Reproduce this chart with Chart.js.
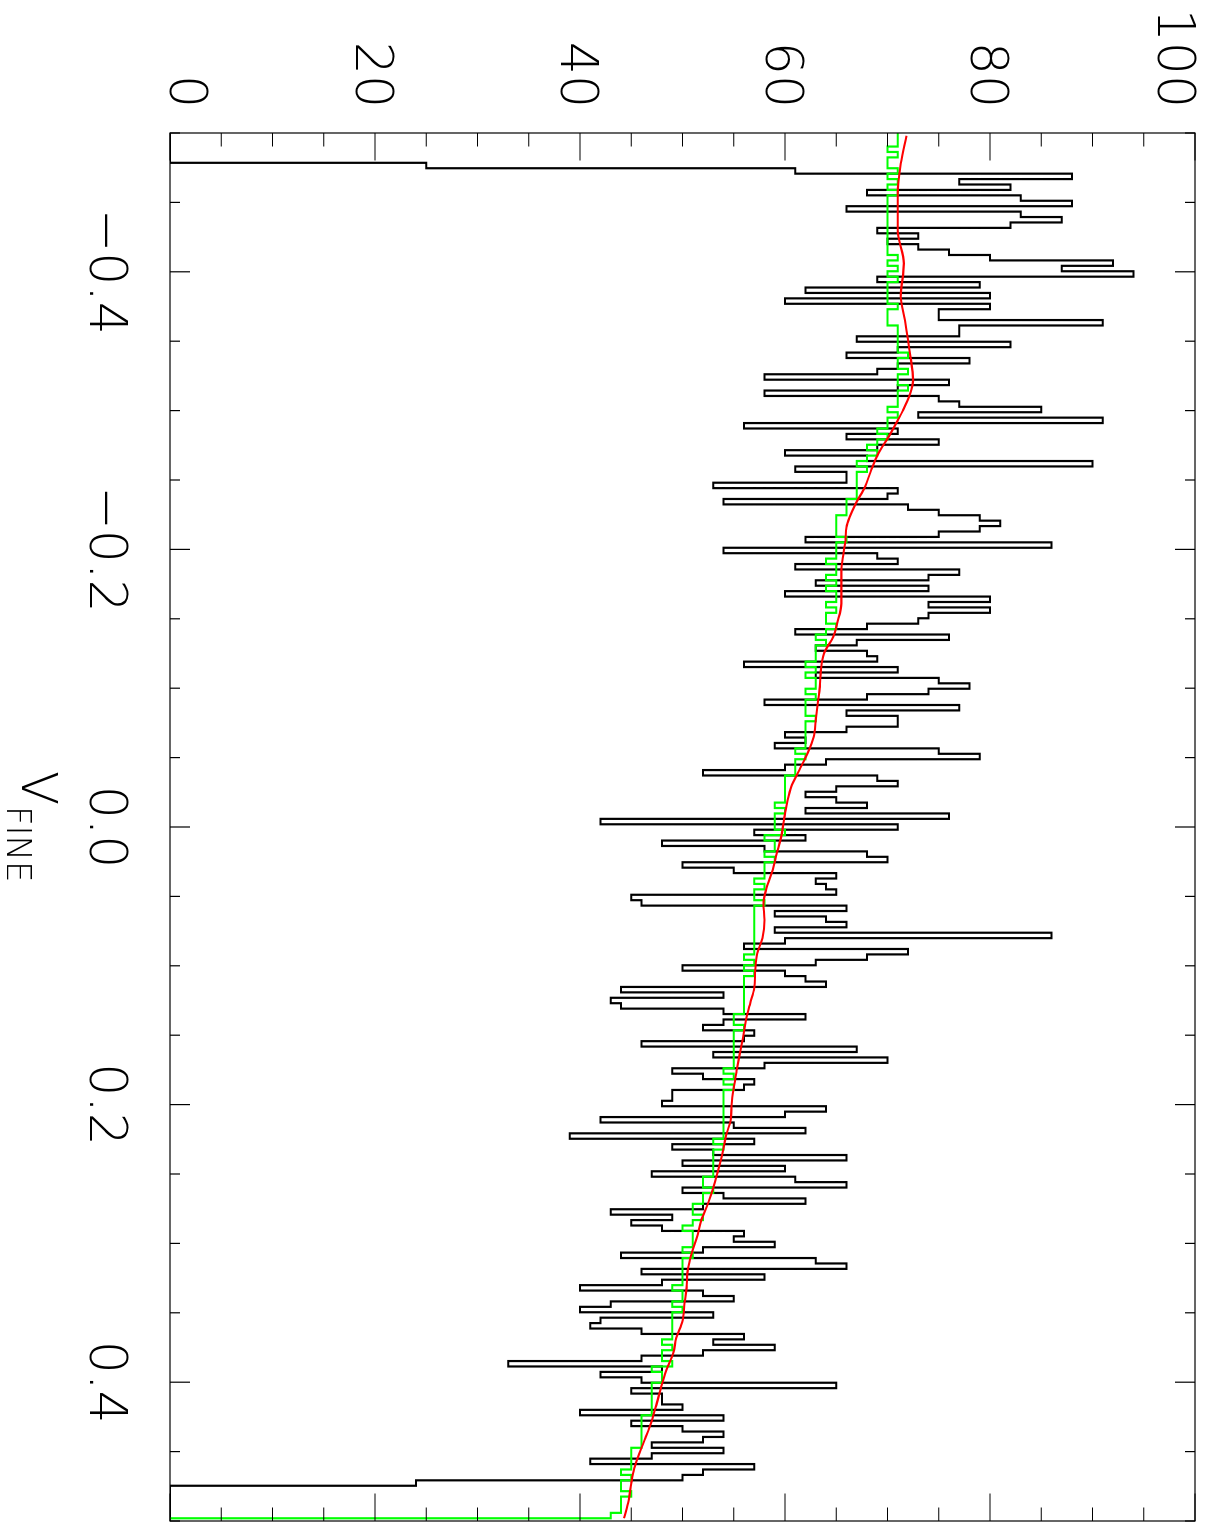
<!DOCTYPE html>
<html>
<head>
<meta charset="utf-8">
<title>V_FINE</title>
<script src="https://cdn.jsdelivr.net/npm/chart.js@4.4.1/dist/chart.umd.min.js"></script>
<style>
  html, body { margin: 0; padding: 0; background: #fff; overflow: hidden; }
  /* o gráfico é desenhado "deitado" e girado 90° como no original */
  #wrap {
    position: absolute; left: 0; top: 0;
    width: 1522px; height: 1209px;
    transform-origin: 0 0;
    transform: translate(1209px, 0) rotate(90deg);
  }
</style>
</head>
<body>
<div id="wrap"><canvas id="grafico" width="1522" height="1209"></canvas></div>
<script>
// Bins: 257 pontos de -0.5 a 0.5 (passo 1/256)
const binInicio = -0.5;
const binPasso = 1 / 256;

// Histograma preto (contagens por bin)
const contagens = [
  0, 0, 0, 0, 0, 0, 25, 61, 88, 77,
  82, 68, 83, 88, 66, 83, 87, 82, 69, 73,
  70, 73, 76, 80, 92, 87, 94, 69, 79, 62,
  80, 60, 80, 75, 75, 91, 77, 77, 67, 82,
  71, 66, 78, 71, 69, 58, 76, 71, 58, 75,
  77, 85, 73, 91, 56, 71, 66, 75, 69, 60,
  68, 90, 61, 66, 66, 53, 71, 70, 54, 72,
  75, 79, 81, 79, 75, 62, 86, 54, 69, 71,
  61, 77, 74, 63, 74, 60, 80, 74, 80, 74,
  73, 68, 61, 76, 67, 63, 68, 69, 56, 71,
  63, 75, 78, 74, 68, 58, 77, 66, 71, 71,
  66, 60, 62, 59, 75, 79, 64, 60, 52, 69,
  71, 65, 62, 65, 68, 62, 76, 42, 71, 57,
  62, 48, 58, 68, 70, 50, 55, 65, 63, 64,
  65, 45, 46, 66, 59, 64, 66, 59, 86, 60,
  56, 72, 68, 63, 50, 60, 62, 64, 44, 54,
  43, 44, 54, 62, 54, 52, 57, 56, 46, 67,
  53, 70, 58, 49, 52, 57, 56, 49, 49, 48,
  64, 60, 42, 55, 62, 39, 57, 49, 53, 66,
  50, 60, 47, 61, 66, 50, 54, 62, 52, 43,
  49, 45, 48, 56, 55, 59, 52, 44, 63, 66,
  46, 58, 48, 40, 52, 55, 43, 40, 53, 42,
  41, 46, 56, 53, 59, 52, 46, 33, 48, 42,
  46, 65, 45, 48, 48, 50, 40, 54, 45, 50,
  54, 52, 47, 54, 47, 41, 57, 52, 50, 24,
  0, 0, 0, 0, 0, 0, 0
];

// Modelo verde (em degraus)
const modeloVerde = [
  71, 71, 71, 70, 71, 70, 70, 71, 70, 71,
  70, 71, 70, 70, 70, 70, 70, 70, 70, 70,
  70, 70, 70, 71, 70, 71, 70, 71, 70, 70,
  70, 70, 71, 70, 70, 70, 71, 71, 71, 71,
  71, 72, 71, 71, 72, 71, 71, 72, 71, 71,
  71, 70, 71, 70, 70, 69, 70, 69, 68, 69,
  68, 67, 68, 67, 67, 67, 67, 67, 66, 66,
  66, 65, 65, 65, 65, 66, 65, 65, 65, 64,
  65, 65, 64, 65, 64, 65, 65, 64, 65, 64,
  64, 65, 64, 63, 64, 63, 63, 63, 62, 63,
  62, 63, 63, 62, 63, 62, 62, 62, 63, 62,
  62, 62, 62, 62, 61, 62, 61, 61, 61, 60,
  60, 60, 60, 60, 59, 60, 59, 59, 59, 60,
  58, 59, 59, 58, 59, 58, 58, 58, 57, 58,
  57, 57, 58, 57, 57, 57, 57, 57, 57, 57,
  57, 57, 56, 57, 56, 57, 56, 56, 56, 56,
  56, 56, 56, 55, 55, 56, 55, 55, 55, 55,
  55, 55, 55, 54, 55, 54, 55, 54, 54, 54,
  54, 54, 54, 54, 54, 54, 53, 54, 53, 53,
  53, 53, 53, 52, 52, 53, 52, 52, 51, 51,
  52, 51, 50, 51, 51, 51, 50, 51, 50, 50,
  50, 50, 50, 49, 50, 50, 49, 50, 49, 49,
  49, 49, 49, 48, 49, 48, 48, 49, 47, 48,
  48, 47, 47, 47, 47, 47, 47, 46, 46, 46,
  46, 46, 46, 45, 45, 45, 45, 44, 45, 44,
  44, 45, 44, 44, 44, 43, 0
];

// Curva vermelha (suave)
const curvaV = [
  -0.498, -0.478, -0.456, -0.430, -0.406, -0.382, -0.365, -0.341, -0.322, -0.312,
  -0.300, -0.293, -0.281, -0.269, -0.257, -0.245, -0.233, -0.223, -0.216, -0.206,
  -0.197, -0.185, -0.161, -0.147, -0.137, -0.125, -0.113, -0.101, -0.089, -0.077,
  -0.065, -0.053, -0.041, -0.029, -0.017, -0.005, 0.008, 0.019, 0.031, 0.044,
  0.055, 0.067, 0.080, 0.091, 0.103, 0.116, 0.127, 0.139, 0.152, 0.163,
  0.175, 0.188, 0.199, 0.211, 0.221, 0.235, 0.248, 0.260, 0.271, 0.284,
  0.296, 0.307, 0.320, 0.332, 0.343, 0.356, 0.368, 0.379, 0.392, 0.404,
  0.415, 0.428, 0.440, 0.451, 0.462, 0.473, 0.485, 0.498
];
const curvaVermelha = [
  71.85, 71.3, 71.0, 71.0, 71.6, 71.3, 71.7, 72.2, 72.5, 72.2,
  71.5, 71.0, 70.1, 69.1, 68.4, 67.8, 66.9, 66.3, 66.0, 65.9,
  65.7, 65.5, 65.5, 65.1, 64.7, 63.8, 63.5, 63.4, 63.2, 63.0,
  62.8, 62.2, 61.4, 60.6, 60.2, 59.9, 59.6, 59.2, 58.8, 58.2,
  57.9, 58.0, 57.8, 57.3, 57.1, 57.0, 56.6, 56.2, 55.9, 55.6,
  55.3, 55.0, 54.8, 54.7, 54.3, 53.9, 53.45, 53.0, 52.5, 51.8,
  51.4, 50.9, 50.5, 50.4, 50.2, 50.0, 49.4, 49.1, 48.4, 47.9,
  47.5, 47.0, 46.4, 45.8, 45.3, 45.0, 44.75, 44.3
];

// Eixos
const ticksV = [-0.4, -0.2, 0.0, 0.2, 0.4];
const rotulosV = ['\u22120.4', '\u22120.2', '0.0', '0.2', '0.4'];
const ticksY = [0, 20, 40, 60, 80, 100];
const rotulosY = ['0', '20', '40', '60', '80', '100'];
const menorV = 0.05;
const menorY = 5;

const fonte = "'DejaVu Sans', sans-serif";

const pontos = (ys) => ys.map((y, i) => ({ x: binInicio + i * binPasso, y }));

// Moldura, ticks internos e textos no estilo IDL
const eixosIDL = {
  id: 'eixosIDL',
  afterDatasetsDraw(chart) {
    const { ctx, chartArea: a, scales: { x, y } } = chart;
    ctx.save();
    ctx.strokeStyle = '#000';
    ctx.lineWidth = 1.2;
    ctx.strokeRect(a.left, a.top, a.right - a.left, a.bottom - a.top);

    ctx.beginPath();
    for (let v = x.min; v <= x.max + 1e-9; v += menorV) {
      const px = x.getPixelForValue(v);
      const maior = ticksV.some(t => Math.abs(t - v) < 1e-6);
      const len = maior ? 20 : 10;
      ctx.moveTo(px, a.bottom); ctx.lineTo(px, a.bottom - len);
      ctx.moveTo(px, a.top); ctx.lineTo(px, a.top + len);
    }
    for (let v = y.min; v <= y.max + 1e-9; v += menorY) {
      const py = y.getPixelForValue(v);
      const len = ticksY.includes(v) ? 27.5 : 13.5;
      ctx.moveTo(a.left, py); ctx.lineTo(a.left + len, py);
      ctx.moveTo(a.right, py); ctx.lineTo(a.right - len, py);
    }
    ctx.stroke();

    ctx.fillStyle = '#000';
    ctx.font = `200 52px ${fonte}`;
    ctx.textBaseline = 'alphabetic';
    ctx.textAlign = 'center';
    ticksV.forEach((v, i) => ctx.fillText(rotulosV[i], x.getPixelForValue(v), a.bottom + 80));

    ctx.textAlign = 'right';
    ticksY.forEach((v, i) => {
      let c = y.getPixelForValue(v);
      c = Math.min(Math.max(c, a.top + 18), a.bottom - 19);
      ctx.fillText(rotulosY[i], a.left - 25, c + 19);
    });

    // título do eixo: V com subscrito FINE
    const meio = (a.left + a.right) / 2;
    ctx.textAlign = 'left';
    ctx.font = `200 50px ${fonte}`;
    ctx.fillText('V', meio - 56, a.bottom + 148);
    ctx.font = `200 34px ${fonte}`;
    ctx.fillText('FINE', meio - 21, a.bottom + 163);
    ctx.restore();
  }
};

new Chart(document.getElementById('grafico'), {
  type: 'line',
  data: {
    datasets: [
      {
        label: 'ajuste',
        data: curvaV.map((v, i) => ({ x: v, y: curvaVermelha[i] })),
        borderColor: '#ff0000',
        borderWidth: 2.1,
        pointRadius: 0,
        cubicInterpolationMode: 'monotone',
        fill: false
      },
      {
        label: 'modelo',
        data: pontos(modeloVerde),
        borderColor: '#00ff00',
        borderWidth: 2.2,
        pointRadius: 0,
        stepped: 'middle',
        fill: false
      },
      {
        label: 'dados',
        data: pontos(contagens),
        borderColor: '#000000',
        borderWidth: 2.2,
        pointRadius: 0,
        stepped: 'middle',
        fill: false
      }
    ]
  },
  options: {
    responsive: false,
    maintainAspectRatio: false,
    devicePixelRatio: 1,
    animation: false,
    events: [],
    layout: { padding: { top: 14, right: 1, bottom: 0, left: 0 } },
    plugins: { legend: { display: false }, tooltip: { enabled: false } },
    scales: {
      x: {
        type: 'linear', min: -0.5, max: 0.5,
        grid: { display: false }, border: { display: false },
        ticks: { display: false },
        afterFit: (s) => { s.height = 170; }
      },
      y: {
        type: 'linear', min: 0, max: 100,
        grid: { display: false }, border: { display: false },
        ticks: { display: false },
        afterFit: (s) => { s.width = 133; }
      }
    }
  },
  plugins: [eixosIDL]
});
</script>
</body>
</html>
